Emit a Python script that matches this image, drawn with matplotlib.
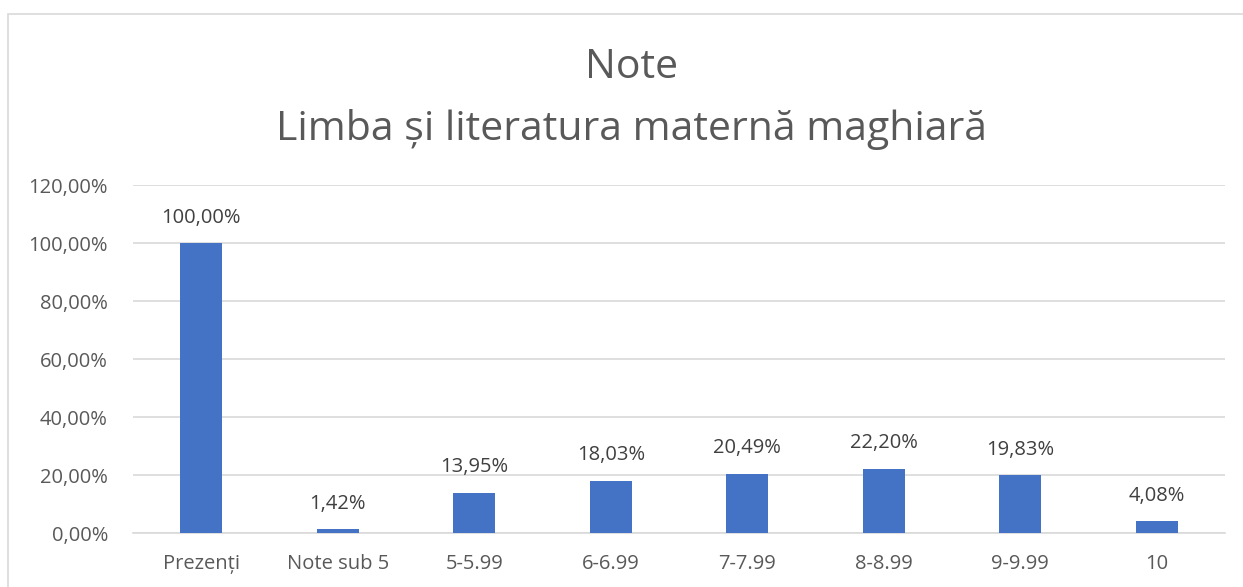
import matplotlib.pyplot as plt
from matplotlib.patches import Rectangle
from matplotlib.ticker import FuncFormatter

categories = ["Prezenți", "Note sub 5", "5-5.99", "6-6.99", "7-7.99", "8-8.99", "9-9.99", "10"]
values = [100.00, 1.42, 13.95, 18.03, 20.49, 22.20, 19.83, 4.08]
y_ticks = [0, 20, 40, 60, 80, 100, 120]

plt.rcParams["font.family"] = ["Open Sans", "DejaVu Sans"]

BAR_COLOR = "#4472c4"
GRID_COLOR = "#d9d9d9"
TEXT_COLOR = "#595959"


def pct(v):
    return f"{v:.2f}".replace(".", ",") + "%"


fig = plt.figure(figsize=(12.43, 5.87), dpi=100)
fig.patch.set_facecolor("white")

# chart frame, runs off the right/bottom edge like the source screenshot
fig.patches.append(Rectangle((8 / 1243, -0.05), 1.1, 0.05 + 1 - 14 / 587,
                             transform=fig.transFigure, fill=False,
                             edgecolor=GRID_COLOR, linewidth=1.2))

ax = fig.add_axes([133 / 1243, 1 - 533 / 587, (1225 - 133) / 1243, (533 - 185) / 587])
x = range(len(categories))
bars = ax.bar(x, values, width=0.31, color=BAR_COLOR, zorder=3)
ax.bar_label(bars, labels=[pct(v) for v in values], padding=11,
             fontsize=14.5, color="#404040")

ax.set_xlim(-0.5, len(categories) - 0.5)
ax.set_ylim(0, 120)
ax.set_yticks(y_ticks)
ax.yaxis.set_major_formatter(FuncFormatter(lambda v, _: pct(v)))
ax.set_xticks(list(x))
ax.set_xticklabels(categories)
ax.tick_params(axis="both", length=0, labelsize=14.5, labelcolor=TEXT_COLOR)
ax.tick_params(axis="x", pad=15)
ax.tick_params(axis="y", pad=18)
ax.grid(axis="y", color=GRID_COLOR, linewidth=1.2, zorder=0)
for side in ["top", "right", "left"]:
    ax.spines[side].set_visible(False)
ax.spines["bottom"].set_color(GRID_COLOR)
ax.spines["bottom"].set_linewidth(1.2)

fig.text(632 / 1243, 1 - 68 / 587, "Note", ha="center", va="center",
         fontsize=29.5, color=TEXT_COLOR)
fig.text(632 / 1243, 1 - 130 / 587, "Limba și literatura maternă maghiară",
         ha="center", va="center", fontsize=29.5, color=TEXT_COLOR)

fig.savefig("out.png", dpi=100)
